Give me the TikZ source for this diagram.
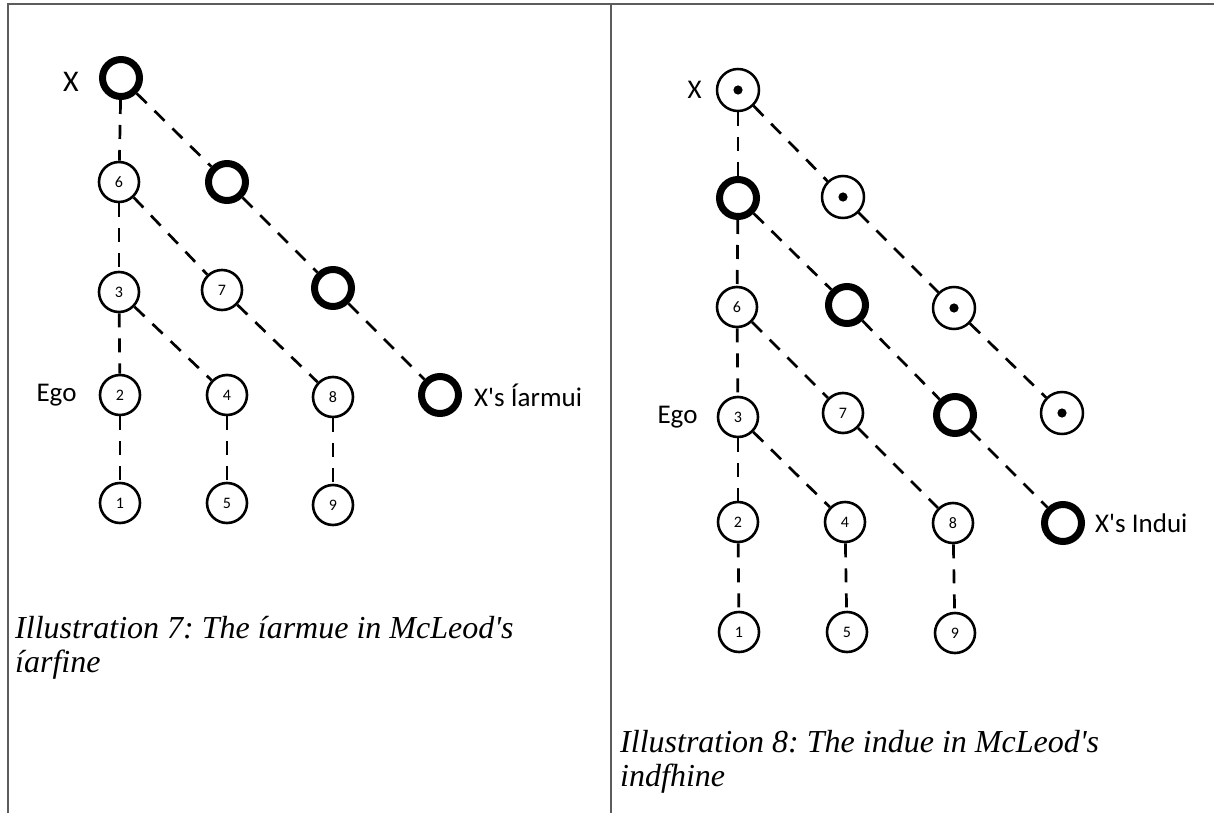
\documentclass[tikz,border=0pt]{standalone}
\usepackage{fontspec}
\setmainfont{Liberation Serif}[Ligatures=TeXOff]
\newfontfamily\kinfont{Carlito}
\usepackage{tikz}
\usetikzlibrary{positioning}
\definecolor{rulegray}{HTML}{5C5C5C}
\frenchspacing

\begin{document}
\begin{tikzpicture}[x=1pt,y=-1pt,
    kin/.style={circle,draw,line width=2.6pt,minimum size=40pt,inner sep=0pt,
      font=\kinfont\fontsize{16}{16}\selectfont},
    heir/.style={circle,draw,line width=7pt,minimum size=37pt,inner sep=0pt},
    seed/.style={circle,draw,line width=2.5pt,minimum size=42pt,inner sep=0pt},
    link/.style={line width=2.7pt,dash pattern=on 14pt off 11pt},
    tag/.style={inner sep=0pt,font=\kinfont\fontsize{27}{27}\selectfont},
    caption/.style={anchor=base west,inner sep=0pt,
      font=\itshape\fontsize{32}{35}\selectfont}]
  \useasboundingbox (0,0) rectangle (1214,813);
  \draw[rulegray,line width=1.1pt] (8,813) -- (8,4) -- (1214,4);
  \draw[rulegray,line width=1.1pt] (611,4) -- (611,813);

  % iarfine
  \node[heir] (lx) at (121,78) {};
  \node[kin] (l6) at (119,182) {6};
  \node[heir] (la1) at (227,182) {};
  \node[kin] (l3) at (119,292) {3};
  \node[kin] (l7) at (222,290) {7};
  \node[heir] (la2) at (333,288) {};
  \node[kin] (l2) at (120,395) {2};
  \node[kin] (l4) at (227,395) {4};
  \node[kin] (l8) at (333,397) {8};
  \node[heir] (la3) at (440,395) {};
  \node[kin] (l1) at (120,503) {1};
  \node[kin] (l5) at (227,503) {5};
  \node[kin] (l9) at (333,505) {9};
  \node[tag,font=\kinfont\fontsize{30}{30}\selectfont,left=20pt of lx,yshift=-4pt] (lxname) {X};
  \node[tag,left=22pt of l2] (lego) {Ego};
  \node[tag,right=12pt of la3] (lheir) {X's Íarmui};
  \foreach \a/\b in {lx/l6,l6/l3,l3/l2,l2/l1,l4/l5,l8/l9,
                     lx/la1,la1/la2,la2/la3,l6/l7,l7/l8,l3/l4}
    \draw[link] (\a) -- (\b);
  \node[caption] (cap7a) at (15,638) {Illustration 7: The íarmue in McLeod's};
  \node[caption] (cap7b) at (15,672) {íarfine};

  % indfhine
  \node[seed] (rx) at (738,90) {};
  \node[heir] (rh1) at (738,198) {};
  \node[seed] (rd1) at (843,197) {};
  \node[kin] (r6) at (737,307) {6};
  \node[heir] (rh2) at (847,305) {};
  \node[seed] (rd2) at (954,308) {};
  \node[kin] (r3) at (738,417) {3};
  \node[kin] (r7) at (843,413) {7};
  \node[heir] (rh3) at (955,415) {};
  \node[seed] (rd3) at (1062,413) {};
  \node[kin] (r2) at (738,522) {2};
  \node[kin] (r4) at (845,522) {4};
  \node[kin] (r8) at (953,523) {8};
  \node[heir] (rh4) at (1063,523) {};
  \node[kin] (r1) at (739,632) {1};
  \node[kin] (r5) at (847,632) {5};
  \node[kin] (r9) at (955,633) {9};
  \foreach \n in {rx,rd1,rd2,rd3}
    \fill (\n) circle (4.6);
  \node[tag,left=14pt of rx] (rxname) {X};
  \node[tag,left=19pt of r3] (rego) {Ego};
  \node[tag,right=10pt of rh4] (rheir) {X's Indui};
  \foreach \a/\b in {rx/rh1,rh1/r6,r6/r3,r3/r2,r2/r1,r4/r5,r8/r9,
                     rx/rd1,rd1/rd2,rd2/rd3,rh1/rh2,rh2/rh3,rh3/rh4,
                     r6/r7,r7/r8,r3/r4}
    \draw[link] (\a) -- (\b);
  \node[caption] (cap8a) at (620,752) {Illustration 8: The indue in McLeod's};
  \node[caption] (cap8b) at (620,786) {indfhine};
\end{tikzpicture}
\end{document}
